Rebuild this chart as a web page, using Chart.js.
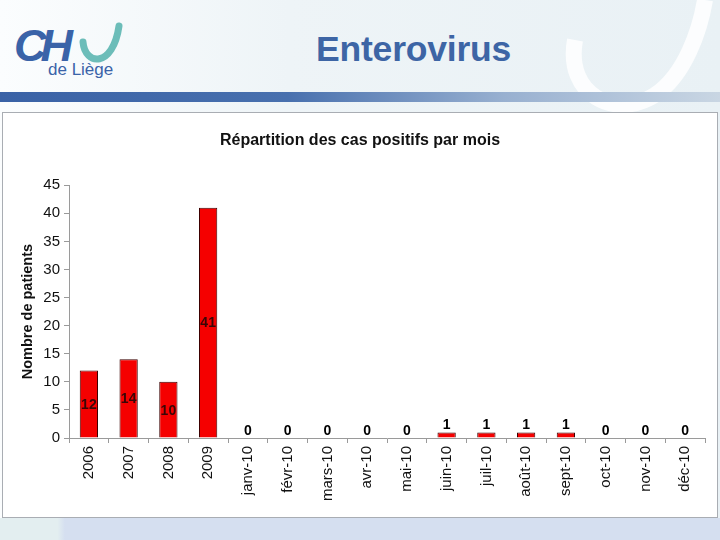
<!DOCTYPE html>
<html>
<head>
<meta charset="utf-8">
<script src="https://cdn.jsdelivr.net/npm/chart.js@4.4.1/dist/chart.umd.min.js"></script>
<style>
  body { margin: 0; width: 720px; height: 540px; overflow: hidden; font-family: "Liberation Sans", Arial, sans-serif; }
  .slide { position: relative; width: 720px; height: 540px; background: linear-gradient(90deg, #fbfdfe 0%, #eef4f7 40%, #e9f1f5 100%); }
  .logo { position: absolute; left: 12px; top: 20px; }
  .title { position: absolute; left: 316px; top: 29px; font-size: 35.5px; font-weight: bold; color: #3d65a5; letter-spacing: -0.2px; }
  .band { position: absolute; left: 0; top: 92px; width: 720px; height: 10px; background: linear-gradient(90deg, #3a62a6 0%, #4870ae 40%, #98b0d0 70%, #c9d6e3 100%); }
  .deco { position: absolute; left: 555px; top: 0; }
  .panel { position: absolute; left: 2px; top: 112px; width: 714px; height: 404px; background: #fff; border: 1px solid #a9adb3; }
  .foot { position: absolute; left: 0; top: 518px; width: 720px; height: 22px; background: linear-gradient(90deg, #e3eef0 0%, #e3eef0 8%, #d5dff0 9%, #d5dff0 100%); }
</style>
</head>
<body>
<div class="slide">
  <svg class="deco" width="165" height="112" viewBox="0 0 165 112">
    <path d="M20 40 C 10 95, 60 120, 100 95 C 130 75, 145 30, 150 0" fill="none" stroke="#ffffff" stroke-width="16" opacity="0.85"/>
  </svg>
  <svg class="logo" width="115" height="60" viewBox="0 0 115 60">
    <text x="2" y="41" font-family="Liberation Sans, Arial" font-size="45" font-style="italic" font-weight="bold" fill="#3a63a8" letter-spacing="-6">CH</text>
    <path d="M71 22 C 73 46, 101 48, 107 6" fill="none" stroke="#6cbdb9" stroke-width="7" stroke-linecap="round"/>
    <text x="36" y="55" font-family="Liberation Sans, Arial" font-size="17" fill="#3a63a8">de Liège</text>
  </svg>
  <div class="title">Enterovirus</div>
  <div class="band"></div>
  <div class="panel">
    <canvas id="chart" width="714" height="404"></canvas>
  </div>
  <div class="foot"></div>
</div>
<script>
const categories = ['2006', '2007', '2008', '2009', 'janv-10', 'févr-10', 'mars-10', 'avr-10', 'mai-10',
  'juin-10', 'juil-10', 'août-10', 'sept-10', 'oct-10', 'nov-10', 'déc-10'];
const patients = [12, 14, 10, 41, 0, 0, 0, 0, 0, 1, 1, 1, 1, 0, 0, 0];
const yTicks = [0, 5, 10, 15, 20, 25, 30, 35, 40, 45];

// value labels: big bars get the number in the middle, small ones above
const valueLabels = {
  id: 'valueLabels',
  afterDatasetsDraw(chart) {
    const ctx = chart.ctx;
    const meta = chart.getDatasetMeta(0);
    ctx.save();
    ctx.font = 'bold 14px "Liberation Sans", Arial';
    ctx.textAlign = 'center';
    ctx.textBaseline = 'middle';
    meta.data.forEach((bar, i) => {
      const v = patients[i];
      if (v > 5) {
        ctx.fillStyle = '#3a0606';
        ctx.fillText(String(v), bar.x, (bar.y + bar.base) / 2 + 1);
      } else {
        ctx.fillStyle = '#000';
        ctx.fillText(String(v), bar.x, bar.y - 7);
      }
    });
    ctx.restore();
  }
};

new Chart(document.getElementById('chart'), {
  type: 'bar',
  data: {
    labels: categories,
    datasets: [{
      data: patients,
      backgroundColor: '#f50000',
      borderColor: '#3a0000',
      borderWidth: 1,
      borderSkipped: 'bottom',
      barPercentage: 0.46,
      categoryPercentage: 1
    }]
  },
  options: {
    responsive: false,
    animation: false,
    layout: { padding: { left: 12, right: 12, top: 0, bottom: 0 } },
    plugins: {
      legend: { display: false },
      tooltip: { enabled: false },
      title: {
        display: true,
        text: 'Répartition des cas positifs par mois',
        color: '#111',
        font: { family: '"Liberation Sans", Arial', size: 16, weight: 'bold' },
        padding: { top: 18, bottom: 35 }
      }
    },
    scales: {
      x: {
        grid: { display: true, drawOnChartArea: false, offset: true, color: '#9a9a9a', tickLength: 5 },
        border: { color: '#9a9a9a' },
        ticks: {
          minRotation: 90, maxRotation: 90, autoSkip: false, padding: 3,
          color: '#111', font: { family: '"Liberation Sans", Arial', size: 15 }
        },
        afterFit(scale) { scale.height = 79; }
      },
      y: {
        min: 0, max: 45,
        afterBuildTicks(scale) { scale.ticks = yTicks.map(v => ({ value: v })); },
        grid: { display: true, drawOnChartArea: false, color: '#9a9a9a', tickLength: 5 },
        border: { color: '#9a9a9a' },
        ticks: { padding: 4, color: '#111', font: { family: '"Liberation Sans", Arial', size: 15 } },
        title: {
          display: true, text: 'Nombre de patients', color: '#111',
          font: { family: '"Liberation Sans", Arial', size: 14.5, weight: 'bold' },
          padding: { top: 4, bottom: 0 }
        },
        afterFit(scale) { scale.width = 54; }
      }
    }
  },
  plugins: [valueLabels]
});
</script>
</body>
</html>
